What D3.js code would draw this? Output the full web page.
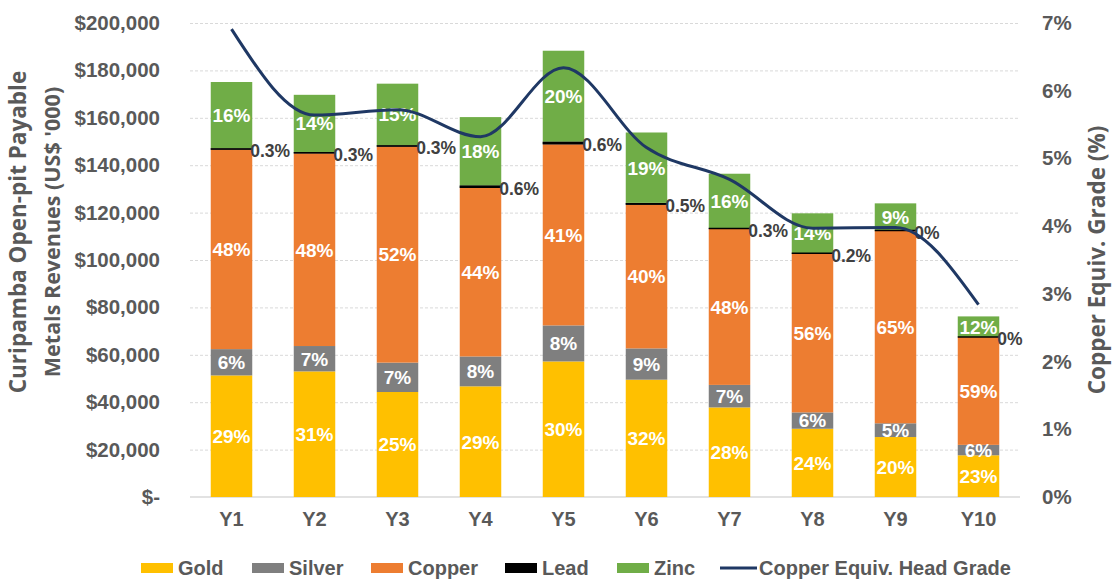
<!DOCTYPE html>
<html><head><meta charset="utf-8">
<script src="https://cdn.jsdelivr.net/npm/d3@7/dist/d3.min.js"></script>
<style>
html,body{margin:0;padding:0;background:#fff;}
svg text{font-family:"Liberation Sans",Arial,sans-serif;font-weight:bold;}
</style></head>
<body>
<svg id="chart" width="1115" height="588"></svg>
<script>
// Data (US$ '000)
const categories = ["Y1","Y2","Y3","Y4","Y5","Y6","Y7","Y8","Y9","Y10"];
const gold   = [51.3, 53.0, 44.3, 46.7, 57.2, 49.5, 37.8, 28.8, 25.3, 17.6];
const silver = [11.1, 10.7, 12.4, 12.6, 15.2, 13.2,  9.5,  6.9,  5.8,  4.4];
const copper = [84.2, 81.3, 91.2, 71.1, 76.4, 60.6, 65.8, 67.0, 81.3, 45.5];
const lead   = [ 0.5,  0.5,  0.5,  1.0,  1.1,  0.8,  0.4,  0.2,  0.0,  0.0];
const zinc   = [28.0, 24.2, 26.0, 28.9, 38.4, 29.7, 22.9, 16.8, 11.5,  8.7];
const grade  = [6.91, 5.64, 5.72, 5.32, 6.34, 5.16, 4.69, 3.97, 3.98, 2.84]; // %
// Data label texts
const goldLbl   = ["29%","31%","25%","29%","30%","32%","28%","24%","20%","23%"];
const silverLbl = ["6%","7%","7%","8%","8%","9%","7%","6%","5%","6%"];
const copperLbl = ["48%","48%","52%","44%","41%","40%","48%","56%","65%","59%"];
const leadLbl   = ["0.3%","0.3%","0.3%","0.6%","0.6%","0.5%","0.3%","0.2%","0%","0%"];
const zincLbl   = ["16%","14%","15%","18%","20%","19%","16%","14%","9%","12%"];
const leftTicks  = [0,20,40,60,80,100,120,140,160,180,200];
const rightTicks = [0,1,2,3,4,5,6,7];

const seriesNames = ["Gold","Silver","Copper","Lead","Zinc"];
const seriesColors = {Gold:"#FFC000",Silver:"#7F7F7F",Copper:"#ED7D31",Lead:"#000000",Zinc:"#70AD47"};
const seriesLabels = {Gold:goldLbl,Silver:silverLbl,Copper:copperLbl,Lead:leadLbl,Zinc:zincLbl};
const lineColor = "#1F3864";
const textColor = "#595959";

const table = categories.map((c,i)=>({cat:c,Gold:gold[i],Silver:silver[i],Copper:copper[i],Lead:lead[i],Zinc:zinc[i],grade:grade[i],i}));

const svg = d3.select("#chart");
const L=190,R=1020,T=23,B=497;

const x = d3.scaleBand().domain(categories).range([L,R]).paddingInner(0.5).paddingOuter(0.25);
const y = d3.scaleLinear().domain([0,200]).range([B,T]);
const yR = d3.scaleLinear().domain([0,7]).range([B,T]);

// gridlines
const grid = svg.append("g").attr("transform",`translate(${L},0)`)
  .call(d3.axisLeft(y).tickValues(leftTicks.slice(1)).tickSize(-(R-L)).tickFormat(""));
grid.select(".domain").remove();
grid.selectAll("line").attr("stroke","#D9D9D9").attr("stroke-dasharray","3,2");

// baseline
svg.append("line").attr("x1",L).attr("x2",R).attr("y1",y(0)).attr("y2",y(0)).attr("stroke","#D9D9D9").attr("stroke-width",1.5);

// stacked bars
const stack = d3.stack().keys(seriesNames)(table);
const layers = svg.append("g").selectAll("g").data(stack).join("g")
  .attr("fill",d=>seriesColors[d.key]);
layers.selectAll("rect").data(d=>d).join("rect")
  .attr("x",d=>x(d.data.cat))
  .attr("width",x.bandwidth())
  .attr("y",d=>y(d[1]))
  .attr("height",d=>Math.max(0,y(d[0])-y(d[1])));

// Lead lines (thin segments drawn visibly)
svg.append("g").selectAll("line").data(stack[3]).join("line")
  .attr("x1",d=>x(d.data.cat)).attr("x2",d=>x(d.data.cat)+x.bandwidth())
  .attr("y1",d=>(y(d[0])+y(d[1]))/2).attr("y2",d=>(y(d[0])+y(d[1]))/2)
  .attr("stroke","#000").attr("stroke-width",d=>Math.max(1.5,y(d[0])-y(d[1])));

// labels inside bars
stack.forEach(layer=>{
  if(layer.key==="Lead") return;
  svg.append("g").selectAll("text").data(layer).join("text")
    .attr("x",d=>x(d.data.cat)+x.bandwidth()/2)
    .attr("y",d=>(y(d[0])+y(d[1]))/2)
    .attr("dy","0.36em")
    .attr("text-anchor","middle")
    .attr("fill","#fff")
    .attr("font-size",19)
    .text((d,i)=>seriesLabels[layer.key][i]);
});
// lead labels right of bar
svg.append("g").selectAll("text").data(stack[3]).join("text")
  .attr("x",d=>x(d.data.cat)+x.bandwidth()-2)
  .attr("y",d=>(y(d[0])+y(d[1]))/2+2)
  .attr("dy","0.36em")
  .attr("fill","#404040")
  .attr("font-size",17.5)
  .text((d,i)=>leadLbl[i]);

// grade line
const line = d3.line().x(d=>x(d.cat)+x.bandwidth()/2).y(d=>yR(d.grade)).curve(d3.curveMonotoneX);
svg.append("path").datum(table).attr("d",line).attr("fill","none").attr("stroke",lineColor).attr("stroke-width",3);

// left axis
const fmt = d3.format(",");
const la = svg.append("g").attr("transform",`translate(${L},0)`)
  .call(d3.axisLeft(y).tickValues(leftTicks).tickSize(0).tickPadding(30)
    .tickFormat(v=> v===0 ? "$-" : "$"+fmt(v*1000)));
la.select(".domain").remove();
la.selectAll("text").attr("font-size",20.5).attr("fill",textColor).attr("font-family","Liberation Sans, Arial, sans-serif").attr("font-weight","bold");

// right axis
const ra = svg.append("g").attr("transform",`translate(${R},0)`)
  .call(d3.axisRight(yR).tickValues(rightTicks).tickSize(0).tickPadding(22).tickFormat(v=>v+"%"));
ra.select(".domain").remove();
ra.selectAll("text").attr("font-size",20.5).attr("fill",textColor).attr("font-family","Liberation Sans, Arial, sans-serif").attr("font-weight","bold");

// x axis
const xa = svg.append("g").attr("transform",`translate(0,${B})`)
  .call(d3.axisBottom(x).tickSize(0).tickPadding(15));
xa.select(".domain").remove();
xa.selectAll("text").attr("font-size",20).attr("fill",textColor).attr("font-family","Liberation Sans, Arial, sans-serif").attr("font-weight","bold");

// axis titles
const lt = svg.append("text").attr("transform","translate(0,232) rotate(-90)")
  .attr("text-anchor","middle").attr("fill",textColor).attr("font-size",22.5)
  .style("font-family","'Open Sans', sans-serif");
lt.append("tspan").attr("x",0).attr("y",26).text("Curipamba Open-pit Payable");
lt.append("tspan").attr("x",0).attr("y",60).attr("font-size",21.5).text("Metals Revenues (US$ '000)");
svg.append("text").attr("transform","translate(1105,260) rotate(-90)")
  .attr("text-anchor","middle").attr("fill",textColor).attr("font-size",22.5)
  .style("font-family","'Open Sans', sans-serif")
  .text("Copper Equiv. Grade (%)");

// legend
const legendItems = [
  {name:"Gold",type:"rect",x:141},
  {name:"Silver",type:"rect",x:252},
  {name:"Copper",type:"rect",x:371},
  {name:"Lead",type:"rect",x:505},
  {name:"Zinc",type:"rect",x:617},
  {name:"Copper Equiv. Head Grade",type:"line",x:720}
];
const lg = svg.append("g");
legendItems.forEach(it=>{
  if(it.type==="rect"){
    lg.append("rect").attr("x",it.x).attr("y",563).attr("width",32).attr("height",10).attr("fill",seriesColors[it.name]);
  } else {
    lg.append("line").attr("x1",it.x).attr("x2",it.x+37).attr("y1",568).attr("y2",568).attr("stroke",lineColor).attr("stroke-width",3);
  }
  lg.append("text").attr("x",it.x+(it.type==="rect"?37:39)).attr("y",575)
    .attr("fill",textColor).attr("font-size",20).text(it.name);
});
</script>
</body></html>
